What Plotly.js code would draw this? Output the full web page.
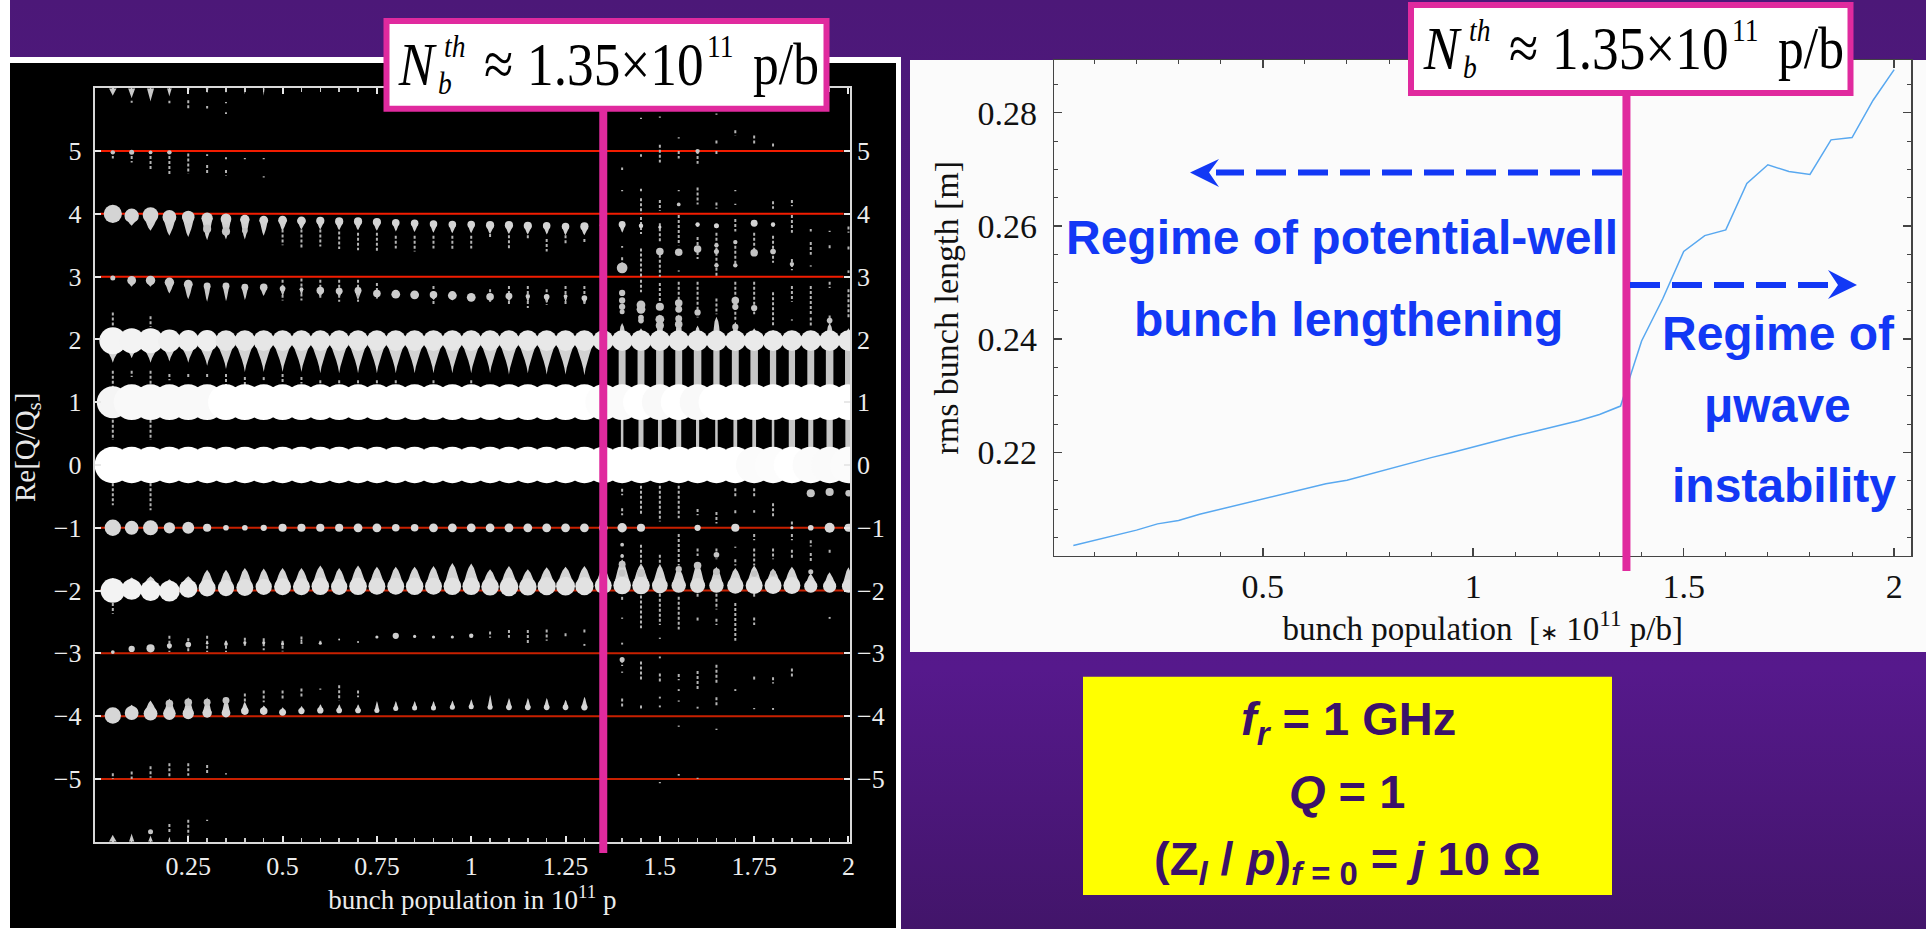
<!DOCTYPE html>
<html><head><meta charset="utf-8">
<script src="https://cdn.plot.ly/plotly-3.0.1.min.js"></script>
<style>html,body{margin:0;padding:0;width:1926px;height:929px;overflow:hidden;background:linear-gradient(180deg,#4c1878 0%,#56198c 72%,#42156a 100%)}#c{width:1926px;height:929px}</style>
</head><body><div id="c"></div><script>
// ---------- left chart: Re[Q/Qs] spectrum vs bunch population ----------
const populations = [0.05,0.1,0.15,0.2,0.25,0.3,0.35,0.4,0.45,0.5,0.55,0.6,0.65,0.7,0.75,0.8,0.85,0.9,0.95,1,1.05,1.1,1.15,1.2,1.25,1.3,1.35,1.4,1.45,1.5,1.55,1.6,1.65,1.7,1.75,1.8,1.85,1.9,1.95,2];
const resonanceLevels = [5,4,3,-1,-2,-3,-4,-5];
const leftTickVals = [0.25,0.5,0.75,1,1.25,1.5,1.75,2];
const leftTickText = ['0.25','0.5','0.75','1','1.25','1.5','1.75','2'];
const modeTicks = [-5,-4,-3,-2,-1,0,1,2,3,4,5];

// line amplitudes: centre, width and tail reach, in units of Q/Qs (null = nothing visible)
const p6_width = [.13,.12,.12,.08,.05,.05,.03,.03,.03];
const p6_reach = [-.12,-.16,-.21,-.13,-.08,-.08,-.08,-.1,-.12];
const p4_center = [4,3.97,3.98,3.95,3.95,3.93,3.92,3.91,3.9,3.9,3.89,3.89,3.88,3.88,3.87,3.86,3.85,3.84,3.83,3.83,3.82,3.82,3.81,3.81,3.8,3.8,3.82,3.83,3.81,3.79,null,3.83,3.81,null,3.85,3.83];
const p4_width = [.29,.23,.25,.22,.2,.18,.17,.15,.14,.14,.14,.13,.13,.13,.13,.12,.12,.12,.12,.12,.13,.13,.13,.12,.12,.13,.11,.11,.07,.05,null,.07,.08,null,.11,.07];
const p4_reach = [-.14,-.16,-.25,-.3,-.32,-.35,-.33,-.32,-.25,-.17,-.14,-.14,-.14,-.14,-.14,-.14,-.14,-.14,-.14,-.14,-.14,-.14,-.14,-.14,-.14,-.14,-.1,-.13,-.05,-.04,null,-.04,-.04,null,-.04,-.04];
const p3_center = [2.98,2.94,2.94,2.91,2.88,2.85,2.85,2.83,2.83,2.81,2.8,2.78,2.77,2.78,2.73,2.72,2.71,2.71,2.7,2.67,2.68,2.69,2.69,2.68,2.69,2.66];
const p3_width = [.08,.14,.15,.15,.14,.11,.11,.11,.12,.09,.06,.12,.11,.11,.12,.14,.14,.12,.14,.14,.12,.11,.07,.09,.06,.09];
const p3_reach = [-.02,-.1,-.1,-.18,-.24,-.25,-.24,-.2,-.14,-.12,-.1,-.1,-.1,-.15,-.08,-.06,-.06,-.08,-.08,-.06,-.08,-.08,-.1,-.1,-.1,-.1];
const p2_width = [.43,.4,.4,.36,.34,.34,.33,.33,.33,.33,.33,.33,.33,.33,.33,.33,.33,.33,.33,.33,.33,.33,.33,.33,.33,.33,.33,.33,.33,.33,.33,.33,.33,.33,.33,.33,.33,.33,.33,.33];
const p2_reach = [-.35,-.28,-.35,-.33,-.35,-.4,-.45,-.5,-.5,-.5,-.5,-.52,-.52,-.52,-.52,-.52,-.52,-.52,-.52,-.52,-.52,-.54,-.52,-.54,-.54,-.55];
const p2_tone = [244,243,243,240,238,238,230,230,230,230,230,230,230,230,230,230,230,230,230,230,230,230,232,232,232,232,232,232,232,232,232,232,232,232,234,234,232,232,232,232];
const p2_lobe_width = [null,null,null,null,null,null,null,null,null,null,null,null,null,null,null,null,null,null,null,null,null,null,null,null,null,null,null,.13,.12,.13,.13,.12,.14,.12,.12,.12,.1,.1,.14,.12];
const p2_lobe = [null,null,null,null,null,null,null,null,null,null,null,null,null,null,null,null,null,null,null,null,null,null,null,null,null,null,null,.28,.2,.42,.42,.24,.38,.3,.2,.17,.14,.14,.28,.2];
const p1_tone = [245,249,249,249,249,249,255,255,255,255,255,255,255,255,255,255,255,255,255,255,255,255,255,255,255,255,252,250,255,249,255,249,255,255,255,255,255,255,255,255];
const p1_width = [.51,.57,.57,.57,.57,.57,.57,.57,.57,.57,.57,.57,.57,.57,.57,.57,.57,.57,.57,.57,.57,.57,.57,.57,.57,.57,.57,.57,.57,.57,.57,.57,.57,.57,.57,.57,.57,.57,.57,.57];
const p0_width = [.58,.58,.58,.58,.58,.58,.58,.58,.58,.58,.58,.58,.58,.58,.58,.58,.58,.58,.58,.58,.58,.58,.58,.58,.58,.58,.58,.58,.58,.58,.58,.58,.58,.58,.58,.58,.58,.58,.58,.58];
const p0_tone = [255,255,255,255,255,255,255,255,255,255,255,255,255,255,255,255,255,255,255,255,255,255,255,255,255,255,255,255,255,255,255,255,255,255,251,252,255,251,250,251];
const m1_width = [.26,.22,.24,.18,.19,.13,.09,.09,.1,.13,.13,.13,.13,.14,.14,.12,.12,.14,.14,.14,.14,.14,.14,.14,.14,.14,.14,.15,.13,null,null,.1,null,.13,null,null,.05,.09,.16,.13];
const m2_center = [-2,-1.98,-2,-2.01,-1.97,-1.96,-1.96,-1.95,-1.94,-1.94,-1.94,-1.93,-1.94,-1.93,-1.93,-1.93,-1.93,-1.93,-1.93,-1.93,-1.94,-1.94,-1.94,-1.93,-1.93,-1.93,-1.92,-1.92,-1.92,-1.92,-1.92,-1.92,-1.92,-1.92,-1.92,-1.92,-1.92,-1.93,-1.93,-1.93];
const m2_width = [.39,.33,.33,.33,.29,.27,.26,.27,.26,.27,.27,.28,.26,.28,.27,.27,.28,.27,.28,.28,.28,.3,.28,.29,.3,.29,.27,.28,.28,.25,.23,.24,.23,.26,.27,.27,.27,.21,.21,.21];
const m2_reach = [.2,.19,.23,.19,.2,.29,.29,.31,.29,.3,.3,.33,.3,.33,.31,.31,.31,.32,.37,.36,.28,.33,.28,.3,.31,.32,.3,.42,.35,.34,.3,.37,.3,.28,.32,.27,.3,.2,.22,.3];
const m2_tone = [243,242,242,240,236,228,226,224,226,226,224,226,224,226,224,224,226,224,226,226,224,226,224,224,226,226,226,226,224,220,218,222,220,222,226,226,226,222,222,222];
const m3_center = [-2.98,-2.93,-2.92,-2.88,-2.86,-2.84,-2.85,-2.83,-2.83,-2.85,-2.8,-2.84,-2.78,-2.82,-2.74,-2.72,-2.73,-2.74,-2.74,-2.72];
const m3_width = [.06,.1,.13,.08,.09,.04,.06,.05,.05,.05,.03,.05,.03,.03,.05,.1,.05,.05,.05,.07];
const m4_center = [-3.99,-3.95,-3.96,-3.96,-3.96,-3.95,-3.95,-3.92,-3.92,-3.94,-3.92,-3.91,-3.91,-3.91,-3.91,-3.88,-3.87,-3.87,-3.86,-3.85,-3.86,-3.86,-3.86,-3.86,-3.86,-3.86];
const m4_width = [.26,.22,.22,.2,.18,.15,.14,.12,.12,.11,.1,.1,.09,.09,.08,.08,.08,.08,.08,.08,.08,.09,.09,.09,.09,.1];
const m4_reach = [.07,.13,.21,.24,.26,.25,.25,.15,.09,.08,.08,.1,.1,.1,.15,.12,.11,.11,.11,.12,.2,.15,.15,.15,.12,.17];
const m6_width = [.13,.09,.08,.05];
const m6_reach = [.11,.13,.1,.08];
// grey columns joining the lines above threshold (index 27 = 1.35 ... 40 = 2)
const gap21_width = [.1,.11,.11,.12,.11,.12,.1,.11,.12,.1,.1,.11,.12,.11];
const gap10_width = [.08,.04,.08,.06,.08,.05,.04,.06,.06,.04,.1,.08,.1,.1];

// small satellite blobs [column, Q/Qs, width]
const satellites = [
[1,4.98,.07],[2,4.98,.08],[3,4.98,.06],[4,4.98,.07],[6,3.76,.13],[7,3.72,.13],[8,3.73,.09],
[28,3.14,.17],[28,2.74,.1],[28,2.62,.1],[28,2.52,.1],[28,2.44,.08],[29,2.55,.14],[29,2.48,.14],[29,2.35,.09],[29,2.3,.09],
[30,3.4,.12],[30,2.52,.13],[30,2.32,.14],[30,2.22,.13],[31,3.39,.12],[31,4.15,.06],[31,2.58,.12],[31,2.48,.11],[31,2.33,.11],[31,2.24,.12],
[32,5,.07],[32,3.44,.12],[32,2.43,.1],[33,3.5,.07],[33,3.4,.08],[33,3.18,.07],[34,3.55,.07],[34,3.18,.07],[34,2.62,.12],[34,2.52,.1],[34,2.2,.1],
[35,3.38,.12],[35,2.5,.1],[36,3.4,.09],[37,3.2,.07],[39,2.3,.09],
[38,-.45,.13],[39,-.43,.13],[40,-.45,.1],[28,-1.27,.06],[28,-1.45,.06],[28,-1.58,.11],[28,-1.72,.11],[29,-1.72,.13],[31,-1.66,.1],[32,-1.6,.12],[33,-1.43,.09],[33,-1.7,.11],[35,-1.73,.1],[36,-1.72,.09],[38,-1.7,.08],
[28,-3.1,.08],[4,-3.8,.12],[5,-3.78,.12],[6,-3.78,.11],[7,-3.75,.11],[3,-5.84,.08]];

// faint dotted streaks [column, upper Q/Qs, lower Q/Qs]
const streaksUpper = [
[2,5.8,5.77],[4,5.8,5.76],[5,5.81,5.68],[6,5.72,5.68],[7,5.78,5.76],[7,5.62,5.59],
[1,5,4.88],[2,5,4.82],[3,5,4.7],[4,5,4.62],[5,4.96,4.64],[6,4.95,4.92],[6,4.78,4.63],[7,4.9,4.87],[7,4.7,4.61],[8,4.89,4.87],[9,4.89,4.87],[9,4.6,4.58],
[28,4.74,4.7],[28,4.38,4.36],[28,3.49,3.46],[28,3.31,3.22],[29,5.53,5.51],[29,4.95,4.91],[29,4.4,4.36],[29,4.25,4],[29,3.95,3.68],[29,3.45,3],[29,2.95,2.75],
[30,5.55,5.53],[30,5.1,4.82],[30,4.22,4.05],[30,3.85,3.55],[30,3.35,3],[30,2.9,2.6],[31,5.22,5.2],[31,5,4.88],[31,4.38,4.36],[31,3.98,3.5],[31,3.1,3.08],[31,2.92,2.62],
[32,5,4.8],[32,4.42,4.15],[32,3.63,3.28],[32,2.92,2.35],[33,5.6,5.58],[33,5.17,5.09],[33,5,4.92],[33,4.18,4.08],[33,3.7,3],[33,2.65,2.4],
[34,5.33,5.25],[34,4.38,4.36],[34,4.16,4.14],[34,3.92,3.72],[34,3.57,3.2],[34,2.92,2.3],[35,5.25,5.09],[35,3.7,3.3],[35,2.92,2.4],
[36,5.12,5.04],[36,4.2,4.08],[36,3.65,3.22],[36,2.75,2.2],[37,4.22,4.12],[37,3.98,3.7],[37,3.28,3.1],[37,2.85,2.6],[37,2.32,2.3],
[38,3.76,3.72],[38,3.55,3.35],[38,3.18,3.16],[38,2.85,2.4],[38,2.35,2.2],[39,3.73,3.71],[39,3.5,3.44],[39,2.92,2.82],[39,2.38,2.25],[40,3.8,3.7],[40,3.48,3.42],[40,3.1,3.06],[40,2.8,2.35],
[10,3.75,3.5],[11,3.75,3.46],[12,3.75,3.48],[13,3.72,3.44],[14,3.7,3.42],[15,3.7,3.4],[16,3.65,3.45],[17,3.65,3.4],[18,3.65,3.45],[19,3.65,3.43],[20,3.65,3.45],[21,3.68,3.62],[22,3.66,3.45],[23,3.66,3.6],[24,3.6,3.4],[25,3.66,3.5],[26,3.6,3.55],
[10,2.95,2.62],[11,2.97,2.62],[12,2.95,2.65],[13,2.95,2.6],[14,2.95,2.6],[15,2.9,2.65],[18,2.85,2.55],[21,2.8,2.6],[22,2.85,2.55],[23,2.85,2.5],[24,2.8,2.55],[25,2.85,2.55],[26,2.85,2.55],
[1,2.43,2.2],[3,2.37,2.2],[1,1.5,1.2],[3,1.5,1.2],[2,1.5,1.4],[4,1.45,1.35],[5,1.45,1.4],[6,1.45,1.38],[7,1.45,1.25],[8,1.4,1.25],[9,1.4,1.35],[10,1.45,1.3],[11,1.4,1.3],[12,1.35,1.25],[13,1.35,1.3],[14,1.35,1.25],[15,1.35,1.3],[16,1.35,1.25],[18,1.35,1.25],[20,1.35,1.25],
[1,.72,.4],[3,.72,.4]];
const streaksLower = [
[1,-.29,-.64],[3,-.29,-.72],[28,-.38,-.48],[28,-.69,-.8],[29,-.33,-.8],[30,-.33,-.9],[31,-.33,-.85],[32,-.7,-.8],[33,-.75,-.93],[34,-.37,-.53],[34,-.72,-.8],[35,-.37,-.5],[35,-.72,-.76],[36,-.61,-.85],[37,-.9,-1],
[28,-1.26,-1.28],[28,-1.42,-1.45],[29,-1.27,-1.6],[30,-1.43,-1.6],[31,-1.1,-1.6],[32,-1.33,-1.45],[33,-1.33,-1.5],[34,-1.3,-1.32],[34,-1.5,-1.6],[35,-1.1,-1.2],[35,-1.33,-1.6],[36,-1.33,-1.5],[37,-1.1,-1.2],[37,-1.35,-1.5],[38,-1.2,-1.3],[38,-1.4,-1.55],[39,-1.35,-1.42],
[28,-2.1,-2.15],[28,-2.43,-2.45],[28,-2.83,-2.86],[29,-2.08,-2.6],[30,-2.05,-2.55],[30,-2.75,-2.77],[31,-2.1,-2.62],[32,-2.05,-2.12],[32,-2.43,-2.5],[33,-2.05,-2.3],[33,-2.45,-2.55],[34,-2.2,-2.8],[35,-2.05,-2.1],[35,-2.43,-2.55],[39,-2.42,-2.45],[1,-2.2,-2.37],
[21,-2.65,-2.75],[22,-2.63,-2.75],[23,-2.63,-2.85],[24,-2.62,-2.8],[25,-2.68,-2.75],[26,-2.62,-2.68],[26,-2.85,-2.88],[4,-2.72,-2.98],[5,-2.76,-2.98],[6,-2.72,-2.98],[7,-2.8,-2.98],[8,-2.75,-2.9],[9,-2.76,-2.95],[10,-2.8,-2.97],[11,-2.73,-2.85],[12,-2.8,-2.83],
[28,-3.1,-3.2],[28,-3.29,-3.31],[29,-3.13,-3.45],[30,-3.05,-3.08],[30,-3.32,-3.46],[31,-3.33,-3.43],[31,-3.57,-3.6],[32,-3.28,-3.6],[33,-3.18,-3.5],[34,-3.57,-3.6],[35,-3.37,-3.42],[36,-3.38,-3.48],[37,-3.24,-3.4],
[28,-3.72,-3.85],[29,-3.83,-3.88],[30,-3.69,-3.72],[30,-3.83,-3.86],[31,-3.75,-3.77],[32,-3.85,-3.88],[33,-3.7,-3.86],[35,-3.87,-3.89],[36,-3.87,-3.9],[31,-4.15,-4.17],[33,-4.2,-4.22],
[8,-3.64,-3.78],[9,-3.59,-3.78],[10,-3.59,-3.75],[11,-3.56,-3.7],[12,-3.56,-3.58],[13,-3.51,-3.75],[14,-3.59,-3.7],
[1,-4.91,-5],[2,-4.88,-5],[3,-4.8,-4.98],[4,-4.75,-4.98],[5,-4.75,-4.95],[6,-4.78,-4.93],[7,-4.91,-4.93],[31,-4.92,-4.95],[30,-5.05,-5.07],[32,-4.98,-5],
[4,-5.72,-5.85],[5,-5.65,-5.9],[6,-5.65,-5.67]];

// ---------- right chart: rms bunch length ----------
const rmsBunchLength = [.2036,.2045,.2054,.2063,.2074,.208,.2091,.21,.2109,.2117,.2126,.2135,.2145,.2151,.2161,.2172,.2181,.2191,.22,.221,.222,.2229,.2238,.2247,.2256,.2267,.2282,.2397,.2471,.2555,.2583,.2593,.2675,.2708,.2696,.2691,.2752,.2756,.2822,.2876];
const rightXTicks = [0.5,1,1.5,2];
const rightXText = ['0.5','1','1.5','2'];
const rightYTicks = [.22,.24,.26,.28];
const rightYText = ['0.22','0.24','0.26','0.28'];
const threshold = 1.35;
const rightThresholdMark = 1.364;

// ---------- page geometry ----------
const W=1926,H=929;
const fx=x=>x/W, fy=y=>1-y/H;
const L={l:94.7,r:850,t:88.3,b:841.7}, R={l:1054.4,r:1911,t:60,b:555.6};
const LX=[0.002,2.004], LY=[-6,6];
const qPx=(L.b-L.t)/(LY[1]-LY[0]);
const xPerQ=qPx/((L.r-L.l)/(LX[1]-LX[0]));
const SERIF='"Liberation Serif",serif', SANS='"Liberation Sans",Arial,sans-serif';
const PINK='#e02a9e', BLUE='#1238f5', INK='#3b1169';
const shade=v=>`rgb(${v},${v},${v})`;
const col=i=>populations[i-1];

const traces=[];
// resonance lines
{const a=[],b=[],c=[],d=[];
 resonanceLevels.forEach(m=>{(m>0?a:c).push(0.016,1.987,null);(m>0?b:d).push(m,m,null)});
 traces.push({x:a,y:b,mode:'lines',line:{color:'#f21c00',width:2},hoverinfo:'skip',showlegend:false});
 traces.push({x:c,y:d,mode:'lines',line:{color:'#c82000',width:2},hoverinfo:'skip',showlegend:false});}
// tapered tail of one spectral line, via fill through the axes
function tails(center,width,reach,color,taper){
  const x=[],y=[],f=[0,.2,.4,.6,.8,1],p=taper||.75;
  reach.forEach((r,i)=>{
    if(r==null||width[i]==null)return;
    const c=typeof center==='number'?center:center[i]; if(c==null)return;
    const hw=width[i]/2*xPerQ*.95, px=populations[i];
    f.forEach(s=>{x.push(px-hw*Math.pow(1-s,p));y.push(c+r*s)});
    f.slice().reverse().forEach(s=>{x.push(px+hw*Math.pow(1-s,p));y.push(c+r*s)});
    x.push(null);y.push(null);
  });
  return {x,y,mode:'lines',fill:'toself',fillcolor:color,line:{width:0,color:color},hoverinfo:'skip',showlegend:false};
}
function cores(center,width,color){
  const x=[],y=[],s=[],c=[];
  width.forEach((w,i)=>{
    const yc=typeof center==='number'?center:center[i];
    if(w==null||yc==null)return;
    x.push(populations[i]);y.push(yc);s.push(w*qPx);c.push(Array.isArray(color)?shade(color[i]):color);
  });
  return {x,y,mode:'markers',marker:{size:s,color:c,opacity:1,line:{width:0}},hoverinfo:'skip',showlegend:false};
}
function columns(width,top,bottom,color){
  const x=[],y=[];
  width.forEach((w,k)=>{
    const p=populations[26+k],h=w/2*xPerQ;
    x.push(p-h,p+h,p+h,p-h,null);y.push(top,top,bottom,bottom,null);
  });
  return {x,y,mode:'lines',fill:'toself',fillcolor:color,line:{width:0,color:color},hoverinfo:'skip',showlegend:false};
}
function streaks(list){
  const x=[],y=[];
  list.forEach(s=>{x.push(col(s[0]),col(s[0]),null);y.push(s[1],s[2],null)});
  return {x,y,mode:'lines',line:{color:'#b4b4b4',width:2,dash:'3px,2px'},hoverinfo:'skip',showlegend:false};
}
traces.push(columns(gap21_width,1.85,1.2,'#c6c6c6'));
traces.push(columns(gap10_width,.75,.25,'#c6c6c6'));
traces.push(tails(6,p6_width,p6_reach,'#c8c8c8',1.1));
traces.push(tails(-6,m6_width,m6_reach,'#c8c8c8',1.1));
traces.push(tails(1.98,p2_width,p2_reach,'#d2d2d2',1.3));
traces.push(tails(1.98,p2_lobe_width,p2_lobe,'#cccccc',.5));
traces.push(tails(p4_center,p4_width,p4_reach,'#d0d0d0'));
traces.push(tails(p3_center,p3_width,p3_reach,'#c8c8c8'));
traces.push(tails(m2_center,m2_width,m2_reach,'#d4d4d4',.7));
traces.push(tails(m4_center,m4_width,m4_reach,'#d0d0d0'));
traces.push(streaks(streaksUpper));
traces.push(streaks(streaksLower));
traces.push(cores(p4_center,p4_width,'#d4d4d4'));
traces.push(cores(p3_center,p3_width,'#cccccc'));
traces.push(cores(1.98,p2_width,p2_tone));
traces.push(cores(1,p1_width,p1_tone));
traces.push(cores(0,p0_width,p0_tone));
traces.push(cores(-1,m1_width,'#d8d8d8'));
traces.push(cores(m2_center,m2_width,m2_tone));
traces.push(cores(m3_center,m3_width,'#cfcfcf'));
traces.push(cores(m4_center,m4_width,'#d6d6d6'));
traces.push({x:satellites.map(s=>col(s[0])),y:satellites.map(s=>s[1]),mode:'markers',marker:{size:satellites.map(s=>s[2]*qPx),color:'#c4c4c4',opacity:1,line:{width:0}},hoverinfo:'skip',showlegend:false});
// right-hand tick labels of left chart
traces.push({x:[populations[0]],y:[0],xaxis:'x',yaxis:'y3',mode:'markers',marker:{opacity:0,size:1},hoverinfo:'skip',showlegend:false});
// right chart
traces.push({x:populations,y:rmsBunchLength,xaxis:'x2',yaxis:'y2',mode:'lines',line:{color:'#58a8f0',width:1.5},hoverinfo:'skip',showlegend:false});

// ---------- decorations ----------
const rect=(x0,y0,x1,y1,c,layer)=>({type:'rect',xref:'paper',yref:'paper',x0:fx(x0),x1:fx(x1),y0:fy(y0),y1:fy(y1),fillcolor:c,line:{width:0},layer:layer||'below'});
const poly=(pts,c)=>({type:'path',xref:'paper',yref:'paper',path:'M'+pts.map(p=>fx(p[0])+','+fy(p[1])).join('L')+'Z',fillcolor:c,line:{width:0},layer:'above'});
const seg=(x0,y0,x1,y1,c,w,dash)=>({type:'line',xref:'paper',yref:'paper',x0:fx(x0),x1:fx(x1),y0:fy(y0),y1:fy(y1),line:{color:c,width:w,dash:dash||'solid'},layer:'above'});
const vmark=(xref,v,y0,y1)=>({type:'line',xref:xref,yref:'paper',x0:v,x1:v,y0:fy(y0),y1:fy(y1),line:{color:PINK,width:8},layer:'above'});
const boxShape=(x0,y0,x1,y1)=>({type:'rect',xref:'paper',yref:'paper',x0:fx(x0+3),x1:fx(x1-3),y0:fy(y0+3),y1:fy(y1-3),fillcolor:'#ffffff',line:{color:PINK,width:6},layer:'above'});
const shapes=[
 rect(0,0,10,929,'#ffffff'),
 rect(10,57,901,929,'#ffffff'),
 rect(10,63,896,928,'#000000'),
 rect(910,60,1926,652,'#fbfbfb'),
 vmark('x',threshold,100,853),
 vmark('x2',rightThresholdMark,90,571),
 boxShape(383.5,18,829.5,111.7),
 boxShape(1408,2,1853.5,96),
 seg(1622,172.6,1216,172.6,BLUE,6,'30px,12px'),
 poly([[1190,172.6],[1219,159],[1209,172.6],[1219,187]],BLUE),
 seg(1630,285,1832,285,BLUE,6,'30px,12px'),
 poly([[1857,285],[1828,270],[1838,285],[1828,299]],BLUE),
 rect(1083,676.7,1612,895,'#ffff00','above')
];
const ann=[];
const T=(t,x,y,size,font,color,anchor,extra)=>ann.push(Object.assign({text:t,xref:'paper',yref:'paper',x:fx(x),y:fy(y),xanchor:anchor||'center',yanchor:'middle',showarrow:false,font:{size:size,family:font,color:color},align:'center'},extra||{}));
function formula(dx,dy){
  T('<i>N</i>',396+dx,64+dy,62,SERIF,'#000','left');
  T('<i>th</i>',442+dx,46+dy,32,SERIF,'#000','left');
  T('<i>b</i>',436+dx,83+dy,32,SERIF,'#000','left');
  T('≈',482+dx,64+dy,62,SERIF,'#000','left');
  T('1.35×10',525+dx,64+dy,62,SERIF,'#000','left');
  T('11',705+dx,46+dy,32,SERIF,'#000','left');
  T('p/b',751+dx,64+dy,60,SERIF,'#000','left');
}
formula(0,0);formula(1024.5,-16);
const condensedCount=ann.length;
T('<b>Regime of potential-well</b>',1342,238,48,SANS,BLUE);
T('<b>bunch lengthening</b>',1348,319,48,SANS,BLUE);
T('<b>Regime of</b>',1778,333,48,SANS,BLUE);
T('<b>μwave</b>',1777,405,48,SANS,BLUE);
T('<b>instability</b>',1783.5,485,48,SANS,BLUE);
T('<b><i>f</i><sub><i>r</i></sub> = 1 GHz</b>',1348,722,47,SANS,INK);
T('<b><i>Q</i> = 1</b>',1347,791,47,SANS,INK);
T('<b>(Z<sub><i>l</i></sub> / <i>p</i>)<sub><i>f</i> = 0</sub> = <i>j</i> 10 Ω</b>',1347,862,47,SANS,INK);
T('Re[Q/Q<sub>s</sub>]',27,448,29,SERIF,'#e8e8e8','center',{textangle:-90});

const leftAxis={showgrid:false,zeroline:false,showline:true,linecolor:'#d8d8d8',linewidth:2,mirror:'ticks',ticks:'inside',tickcolor:'#e8e8e8',tickwidth:2,ticklen:6,tickfont:{family:SERIF,size:26,color:'#ececec'}};
const rightAxis={showgrid:false,zeroline:false,showline:true,linecolor:'#444',linewidth:1.5,mirror:'ticks',ticks:'inside',tickcolor:'#444',tickwidth:1.5,ticklen:8,tickfont:{family:SERIF,size:34,color:'#111'}};
const layout={width:W,height:H,margin:{l:0,r:0,t:0,b:0},paper_bgcolor:'rgba(0,0,0,0)',plot_bgcolor:'rgba(0,0,0,0)',showlegend:false,hovermode:false,
 xaxis:Object.assign({},leftAxis,{domain:[fx(L.l),fx(L.r)],range:LX,tickmode:'array',tickvals:leftTickVals,ticktext:leftTickText,anchor:'y',minor:{dtick:.05,ticks:'inside',ticklen:4,tickcolor:'#cccccc',tickwidth:1.5,showgrid:false},title:{text:'bunch population in 10<sup>11</sup> p',font:{family:SERIF,size:27,color:'#ececec'},standoff:6}}),
 yaxis:Object.assign({},leftAxis,{domain:[fy(L.b),fy(L.t)],range:LY,tickmode:'array',tickvals:modeTicks,anchor:'x',ticklabelstandoff:6}),
 yaxis3:Object.assign({},leftAxis,{domain:[fy(L.b),fy(L.t)],range:LY,tickmode:'array',tickvals:modeTicks,overlaying:'y',side:'right',anchor:'x',ticklabelstandoff:6,showline:false,mirror:false}),
 xaxis2:Object.assign({},rightAxis,{domain:[fx(R.l),fx(R.r)],range:[.005,2.04],tickmode:'array',tickvals:rightXTicks,ticktext:rightXText,anchor:'y2',minor:{dtick:.1,ticks:'inside',ticklen:4,tickcolor:'#444',tickwidth:1,showgrid:false},title:{text:'bunch population  [<span style="font-size:22px">∗</span> 10<sup>11</sup> p/b]',font:{family:SERIF,size:33,color:'#111'},standoff:6}}),
 yaxis2:Object.assign({},rightAxis,{domain:[fy(R.b),fy(R.t)],range:[.2018,.2893],tickmode:'array',tickvals:rightYTicks,ticktext:rightYText,anchor:'x2',ticklabelstandoff:9,minor:{dtick:.005,ticks:'inside',ticklen:4,tickcolor:'#444',tickwidth:1,showgrid:false},title:{text:'rms bunch length [m]',font:{family:SERIF,size:34,color:'#111'},standoff:8}}),
 shapes:shapes,annotations:ann};
Plotly.newPlot('c',traces,layout,{displayModeBar:false,staticPlot:true}).then(()=>{
  // the threshold formula is set in a horizontally condensed face in the reference
  document.querySelectorAll('.annotation').forEach(g=>{
    const idx=+g.getAttribute('data-index');
    if(idx>=condensedCount)return;
    const t=g.querySelector('text');
    const b=t.getBBox();
    t.setAttribute('transform',`translate(${b.x},0) scale(.86,1) translate(${-b.x},0)`);
  });
});
</script></body></html>
